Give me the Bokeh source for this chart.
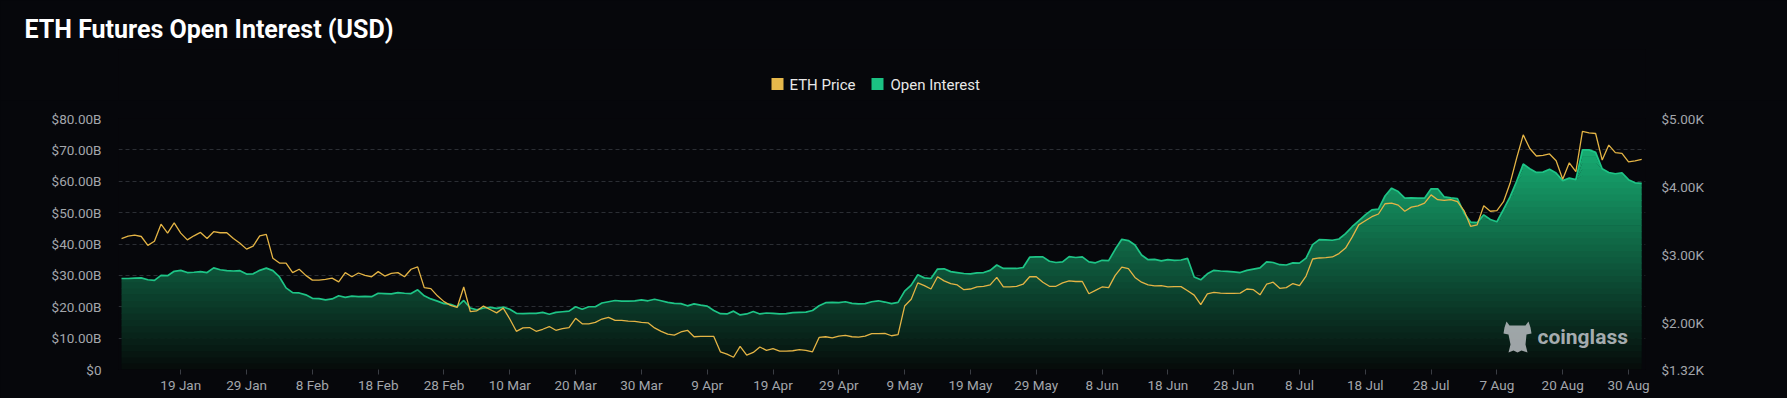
import numpy as np
from bokeh.plotting import figure
from bokeh.layouts import column
from bokeh.models import Range1d, LinearAxis, FixedTicker, Label
from bokeh.core.properties import value
from bokeh.embed import file_html
from bokeh.resources import INLINE

# ---------------- data ----------------
TICK_LABELS = ["19 Jan", "29 Jan", "8 Feb", "18 Feb", "28 Feb", "10 Mar", "20 Mar", "30 Mar",
               "9 Apr", "19 Apr", "29 Apr", "9 May", "19 May", "29 May", "8 Jun", "18 Jun",
               "28 Jun", "8 Jul", "18 Jul", "28 Jul", "7 Aug", "20 Aug", "30 Aug"]
TICK_INDEX = [9, 19, 29, 39, 49, 59, 69, 79, 89, 99, 109, 119, 129, 139, 149, 159,
              169, 179, 189, 199, 209, 219, 229]

OPEN_INTEREST_B = [
    29.0, 29.0, 29.1, 29.2, 28.6, 28.4, 30.0, 29.9, 31.3, 31.6,
    30.9, 31.0, 31.2, 30.9, 32.4, 31.8, 31.5, 31.4, 31.5, 30.4,
    30.5, 31.6, 32.3, 31.5, 29.5, 26.0, 24.5, 24.4, 23.8, 22.7,
    22.6, 22.2, 22.5, 23.5, 23.0, 23.4, 23.2, 23.3,
    23.2, 24.3, 24.2, 24.1, 24.5, 24.3, 24.2, 25.4, 23.5, 22.5,
    21.8, 21.0, 20.8, 20.0, 22.0, 19.6, 19.0, 19.6, 19.8, 19.5,
    19.9, 19.2, 17.9, 17.8, 17.9, 17.9, 18.2, 17.6, 18.2, 18.4,
    18.6, 20.0, 19.2, 20.0, 20.0, 21.2, 21.6, 22.0,
    21.8, 21.8, 21.9, 22.2, 21.9, 22.4, 21.9, 21.4, 21.1, 21.0,
    20.3, 20.9, 20.5, 20.2, 18.8, 17.8, 17.7, 18.6, 17.4, 17.7,
    18.5, 17.7, 18.0, 17.9, 17.7, 17.8, 18.1, 18.2, 18.3, 18.8,
    20.3, 21.3, 21.4, 21.3, 21.6, 21.1, 20.9, 21.0, 21.6, 21.9, 21.5,
    21.0, 21.4, 25.0, 26.9, 30.2, 29.2, 29.0, 32.0, 32.1, 31.2,
    30.9, 30.6, 30.5, 30.8, 30.9, 31.6, 33.3, 32.2, 32.2, 32.2,
    32.5, 35.8, 35.9, 35.9, 34.5, 34.1, 34.3, 36.0, 35.7, 35.9,
    34.3, 34.0, 34.8, 34.7, 38.3,
    41.5, 41.1, 39.7, 36.5, 35.0, 35.1, 34.6, 35.0, 34.8, 34.9,
    35.4, 29.5, 28.6, 30.5, 31.6, 31.4, 31.3, 31.1, 30.9, 31.6,
    32.0, 32.4, 34.3, 34.1, 33.4, 33.3, 34.0, 33.9, 35.5, 39.8,
    41.4, 41.3, 41.2, 41.6, 43.3, 45.5, 47.4, 49.3,
    50.9, 51.1, 55.3, 57.8, 56.7, 54.6, 54.7, 54.6, 54.6, 57.6,
    57.6, 55.0, 54.7, 54.5, 49.9, 47.0, 46.8, 49.3, 47.8, 47.1,
    51.0, 55.0, 60.0, 65.5, 64.0, 62.8, 62.9, 63.8, 62.6, 60.2,
    61.0, 60.5, 70.0, 70.0, 69.2, 64.0, 62.8, 62.4, 62.7, 60.5,
    59.5, 59.3,
]

ETH_PRICE = [
    3240, 3275, 3290, 3270, 3140, 3200, 3450, 3320, 3470, 3320,
    3220, 3280, 3330, 3240, 3340, 3325, 3325, 3240, 3170, 3085,
    3130, 3280, 3300, 2950, 2880, 2880, 2740, 2790, 2700, 2630,
    2630, 2640, 2660, 2605, 2740, 2680, 2735, 2700,
    2680, 2755, 2690, 2730, 2740, 2680, 2790, 2825, 2520, 2505,
    2400, 2315, 2260, 2230, 2530, 2170, 2180, 2250, 2200, 2150,
    2220, 2060, 1880, 1930, 1935, 1880, 1910, 1950, 1895, 1920,
    1935, 2070, 1990, 1990, 2010, 2060, 2085, 2040,
    2040, 2030, 2025, 2010, 2005, 1930, 1880, 1840, 1825, 1870,
    1895, 1800, 1805, 1805, 1805, 1580, 1545, 1500, 1660, 1530,
    1570, 1650, 1600, 1625, 1590, 1590, 1595, 1610, 1600, 1580,
    1790, 1800, 1785, 1810, 1820, 1800, 1795, 1810, 1845, 1845, 1850,
    1815, 1830, 2250, 2350, 2590, 2550, 2500, 2680, 2620, 2580,
    2560, 2490, 2500, 2530, 2540, 2560, 2670, 2530, 2530, 2540,
    2570, 2680, 2680, 2600, 2540, 2540, 2590, 2620, 2610, 2610,
    2430, 2480, 2530, 2520, 2700,
    2820, 2800, 2670, 2600, 2560, 2545, 2550, 2530, 2535, 2535,
    2475, 2410, 2270, 2430, 2450, 2440, 2435, 2435, 2440, 2500,
    2490, 2415, 2570, 2600, 2510, 2520, 2580, 2550, 2690, 2940,
    2955, 2960, 2970, 3020, 3100, 3260, 3440, 3500,
    3560, 3600, 3750, 3760, 3730, 3640, 3700, 3720, 3760, 3880,
    3810, 3800, 3810, 3780, 3650, 3420, 3440, 3720, 3640, 3650,
    3780, 4050, 4420, 4760, 4560, 4450, 4460, 4480, 4380, 4110,
    4350, 4220, 4810, 4790, 4780, 4390, 4610, 4500, 4490, 4365,
    4380, 4400,
]

LEFT_TICKS = [0, 10, 20, 30, 40, 50, 60, 70, 80]
LEFT_LABELS = ["$0", "$10.00B", "$20.00B", "$30.00B", "$40.00B", "$50.00B", "$60.00B", "$70.00B", "$80.00B"]
RIGHT_TICKS = [1320, 2000, 3000, 4000, 5000]
RIGHT_LABELS = ["$1.32K", "$2.00K", "$3.00K", "$4.00K", "$5.00K"]

TITLE = "ETH Futures Open Interest (USD)"
SERIES_NAMES = ["ETH Price", "Open Interest"]

# ---------------- style ----------------
BG = "#06070b"
GREEN = "#1ec486"
GOLD = "#e4b445"
LEG_GREEN = "#1bc283"
LEG_GOLD = "#e6b84b"
AXIS_TXT = "#a3a6ab"
FONT = "Roboto"

W = 1787
HEAD_H = 100           # header strip (title + legend)
HEAD_T = 49            # title band inside the header
H = 398 - HEAD_H       # main chart
ML, MR, MT, MB = 118, 142, 18, 29
X0, X1 = -0.46, 231.58
Y0, Y1 = 0, 80

# ---------------- header: title + legend ----------------
head = figure(width=W, height=HEAD_H, output_backend="svg", toolbar_location=None,
              x_range=Range1d(ML, W - MR), y_range=Range1d(HEAD_H, HEAD_T),
              min_border_left=ML, min_border_right=MR, min_border_top=HEAD_T, min_border_bottom=0,
              x_axis_location=None, y_axis_location=None, title=TITLE,
              background_fill_color=BG, border_fill_color=BG, outline_line_color=None)
head.grid.visible = False
head.title.align = "left"
head.title.offset = 24 - ML
head.title.vertical_align = "middle"
head.title.text_font = FONT
head.title.text_font_style = "bold"
head.title.text_font_size = "25px"
head.title.text_color = "#ffffff"
head.quad(left=[771, 871], right=[783, 883], top=[77.5, 77.5], bottom=[89.5, 89.5],
          fill_color=[LEG_GOLD, LEG_GREEN], line_color=None)
head.text(x=[789, 890], y=[84, 84], text=SERIES_NAMES, text_font=value(FONT),
          text_font_size="15px", text_color="#e8e8e8", text_baseline="middle", text_align="left")

# ---------------- main chart ----------------
x = np.arange(len(OPEN_INTEREST_B))
oi = np.array(OPEN_INTEREST_B, dtype=float)
price = np.array(ETH_PRICE, dtype=float)

p = figure(width=W, height=H, output_backend="svg", toolbar_location=None,
           x_range=Range1d(X0, X1), y_range=Range1d(Y0, Y1),
           min_border_left=ML, min_border_right=MR, min_border_top=MT, min_border_bottom=MB,
           background_fill_color=BG, border_fill_color=BG, outline_line_color=None)
p.extra_y_ranges = {"price": Range1d(RIGHT_TICKS[0], RIGHT_TICKS[-1])}

FW = W - ML - MR
FH = H - MT - MB
def px_x(page_x):
    return X0 + (page_x - ML) / FW * (X1 - X0)
def px_y(page_y):
    return Y0 + (HEAD_H + MT + FH - page_y) / FH * (Y1 - Y0)

# gradient fill of the open-interest area, built as stacked colour bands
top_rgb = np.array([24, 176, 117])
bot_rgb = np.array([6, 11, 10])
step = 2.0
for k in range(int(80 / step)):
    lo, hi = k * step, (k + 1) * step
    f = min((lo + hi) / 2 / 72.0, 1.0)
    c = (bot_rgb + (top_rgb - bot_rgb) * f).astype(int)
    col = "#%02x%02x%02x" % tuple(c)
    y1 = np.minimum(oi, max(lo - 0.2, 0))
    y2 = np.minimum(oi, hi)
    p.varea(x=x, y1=y1, y2=y2, fill_color=col, fill_alpha=1.0)

p.line(x, oi, line_color=GREEN, line_width=1.7)
p.line(x, price, y_range_name="price", line_color=GOLD, line_width=1.3)

# axes & grid
p.xgrid.visible = False
p.ygrid.ticker = FixedTicker(ticks=LEFT_TICKS)
p.ygrid.grid_line_color = "#2b2e34"
p.ygrid.grid_line_dash = "4 3"
p.ygrid.grid_line_width = 1

yax = p.yaxis[0]
yax.ticker = FixedTicker(ticks=LEFT_TICKS)
yax.major_label_overrides = {t: l for t, l in zip(LEFT_TICKS, LEFT_LABELS)}
yax.axis_line_color = None
yax.major_tick_line_color = None
yax.minor_tick_line_color = None
yax.major_label_standoff = 11
yax.major_label_text_color = AXIS_TXT
yax.major_label_text_font = FONT
yax.major_label_text_font_size = "13.5px"

rax = LinearAxis(y_range_name="price", ticker=FixedTicker(ticks=RIGHT_TICKS))
rax.major_label_overrides = {t: l for t, l in zip(RIGHT_TICKS, RIGHT_LABELS)}
rax.axis_line_color = None
rax.major_tick_line_color = None
rax.minor_tick_line_color = None
rax.major_label_standoff = 10
rax.major_label_text_color = AXIS_TXT
rax.major_label_text_font = FONT
rax.major_label_text_font_size = "13.5px"
p.add_layout(rax, "right")

xax = p.xaxis[0]
xax.ticker = FixedTicker(ticks=TICK_INDEX)
xax.major_label_overrides = {t: l for t, l in zip(TICK_INDEX, TICK_LABELS)}
xax.axis_line_color = None
xax.major_tick_line_color = "#3a3d44"
xax.major_tick_out = 5
xax.major_tick_in = 0
xax.minor_tick_line_color = None
xax.major_label_standoff = 2
xax.major_label_text_color = AXIS_TXT
xax.major_label_text_font = FONT
xax.major_label_text_font_size = "13.5px"

# watermark: small logo silhouette + wordmark
ICON_PX = [(1506, 321), (1509, 325), (1525, 325), (1528, 321), (1530, 327), (1531, 333),
           (1526, 334), (1525, 344), (1527, 352), (1521, 350), (1517, 352), (1513, 350),
           (1508, 352), (1510, 344), (1508, 334), (1503, 333), (1504, 327)]
p.patch([px_x(a) for a, b in ICON_PX], [px_y(b) for a, b in ICON_PX],
        fill_color="#b9bcc1", fill_alpha=0.85, line_color=None)
p.add_layout(Label(x=px_x(1537), y=px_y(336), text="coinglass",
                   text_font=FONT, text_font_style="bold", text_font_size="21px",
                   text_color="#c3c6cb", text_alpha=0.85, text_baseline="middle"))

layout = column(head, p, spacing=0)
html = file_html(layout, INLINE)
html = html.replace("<head>", "<head><style>html,body{background:%s;margin:0;}</style>" % BG, 1)
open("out.html", "w").write(html)
